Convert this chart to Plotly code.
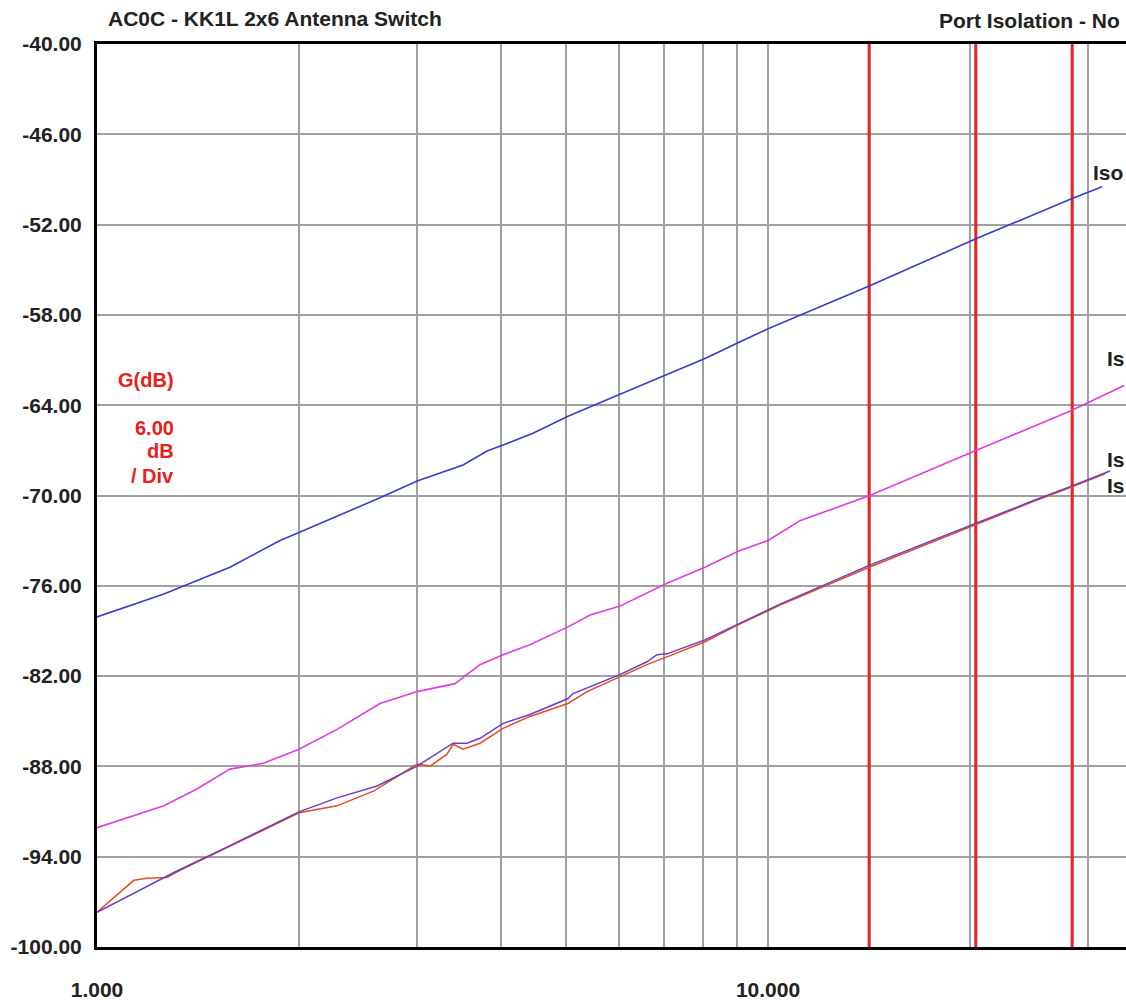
import plotly.graph_objects as go

# ---------------- data (frequency in MHz, gain in dB) ----------------
blue_f = [1.000, 1.258, 1.578, 1.874, 2.000, 2.641, 3.000, 3.512, 3.813, 4.029, 4.464,
          5.034, 6.017, 7.07, 8.055, 9.023, 10.0, 14.15, 20.49, 28.39, 31.46]
blue_db = [-78.07, -76.55, -74.77, -72.99, -72.46, -70.15, -69.03, -67.97, -67.04, -66.65, -65.86,
           -64.73, -63.28, -61.96, -60.90, -59.85, -58.92, -56.08, -52.91, -50.27, -49.48]

magenta_f = [1.000, 1.258, 1.409, 1.578, 1.774, 2.000, 2.279, 2.641, 3.000, 3.416, 3.722, 4.029,
             4.418, 5.034, 5.430, 6.017, 7.07, 8.055, 9.023, 10.0, 11.16, 14.15, 20.49, 28.39, 33.93]
magenta_db = [-92.07, -90.62, -89.50, -88.18, -87.78, -86.86, -85.54, -83.82, -83.03, -82.50, -81.24, -80.58,
              -79.92, -78.73, -77.94, -77.35, -75.83, -74.77, -73.71, -72.99, -71.67, -70.02, -66.98, -64.34, -62.69]

red_f = [1.000, 1.135, 1.187, 1.271, 1.329, 1.578, 1.774, 2.000, 2.279, 2.587, 3.000, 3.136, 3.324,
         3.393, 3.512, 3.722, 4.029, 4.418, 5.034, 5.374, 6.017, 6.600, 7.07, 8.055, 9.023, 10.42,
         14.15, 20.49, 24.83, 28.39, 31.78]
red_db = [-97.69, -95.57, -95.44, -95.38, -94.91, -93.33, -92.21, -91.08, -90.62, -89.63, -87.85, -87.98, -87.19,
          -86.53, -86.86, -86.46, -85.47, -84.68, -83.82, -83.03, -82.04, -81.24, -80.72, -79.72, -78.60, -77.28,
          -74.77, -71.87, -70.41, -69.42, -68.56]

purple_f = [1.000, 1.135, 1.302, 1.578, 1.774, 2.000, 2.279, 2.614, 3.000, 3.393, 3.560, 3.722, 4.029,
            4.418, 5.034, 5.121, 6.017, 6.600, 6.830, 7.07, 8.055, 9.023, 10.42, 14.15, 20.49, 24.83, 28.39, 32.34]
purple_db = [-97.69, -96.43, -95.05, -93.26, -92.14, -91.02, -90.09, -89.30, -87.98, -86.46, -86.46, -86.13, -85.14,
             -84.55, -83.49, -83.16, -81.90, -81.05, -80.58, -80.52, -79.59, -78.54, -77.22, -74.64, -71.80, -70.35, -69.36, -68.37]

marker_f = [14.15, 20.4, 28.4]

x_grid = [1, 2, 3, 4, 5, 6, 7, 8, 9, 10, 20, 30]
x_ticktext = ["1.000", "", "", "", "", "", "", "", "", "10.000", "", ""]
y_ticks = [-100, -94, -88, -82, -76, -70, -64, -58, -52, -46, -40]
y_ticktext = ["%.2f" % v for v in y_ticks]

trace_labels = ["Iso", "Is", "Is", "Is"]

# ---------------- figure ----------------
FONT = "Liberation Sans"
fig = go.Figure()

for f in marker_f:
    fig.add_trace(go.Scatter(x=[f, f], y=[-100, -40], mode="lines",
                             line=dict(color="#e8201c", width=3), showlegend=False, hoverinfo="skip"))

fig.add_trace(go.Scatter(x=magenta_f, y=magenta_db, mode="lines",
                         line=dict(color="#e03ce0", width=1.6), showlegend=False))
fig.add_trace(go.Scatter(x=red_f, y=red_db, mode="lines",
                         line=dict(color="#e84a24", width=1.5), showlegend=False))
fig.add_trace(go.Scatter(x=purple_f, y=purple_db, mode="lines",
                         line=dict(color="#6a3cc8", width=1.5), showlegend=False))
fig.add_trace(go.Scatter(x=blue_f, y=blue_db, mode="lines",
                         line=dict(color="#3a3ad2", width=1.6), showlegend=False))

fig.update_layout(
    width=1126, height=1001,
    margin=dict(l=97, r=0, t=44, b=49),
    paper_bgcolor="white", plot_bgcolor="white",
    font=dict(family=FONT, size=21, color="#222222"),
    showlegend=False,
)

tick_font = dict(family=FONT, size=21, color="#222222", weight="bold")

fig.update_xaxes(
    type="log", range=[0, 1.5335],
    tickmode="array", tickvals=x_grid, ticktext=x_ticktext,
    showgrid=True, gridcolor="#a0a0a0", gridwidth=1.5,
    showline=True, linecolor="black", linewidth=3, mirror=True,
    ticks="", ticklabelstandoff=22,
    tickfont=tick_font,
    zeroline=False,
)
fig.update_yaxes(
    range=[-100, -40],
    tickmode="array", tickvals=y_ticks, ticktext=y_ticktext,
    showgrid=True, gridcolor="#a0a0a0", gridwidth=1.5,
    showline=True, linecolor="black", linewidth=3, mirror=False,
    ticks="", ticklabelstandoff=8,
    tickfont=tick_font,
    zeroline=False,
)

def px_x(x):
    return (x - 97) / 1029.0

def px_y(y):
    return (952 - y) / 908.0

bold = dict(family=FONT, size=21, color="#222222", weight="bold")
red_font = dict(family=FONT, size=20, color="#e8201c", weight="bold")

fig.add_annotation(text="AC0C - KK1L 2x6 Antenna Switch", xref="paper", yref="paper",
                   x=px_x(275), y=px_y(18), xanchor="center", yanchor="middle",
                   showarrow=False, font=bold)
fig.add_annotation(text="Port Isolation - No", xref="paper", yref="paper",
                   x=px_x(937), y=px_y(20), xanchor="left", yanchor="middle",
                   showarrow=False, font=bold)

fig.add_annotation(text="G(dB)", xref="paper", yref="paper", x=px_x(176), y=px_y(382),
                   xanchor="right", yanchor="middle", showarrow=False, font=red_font)
for txt, yy in zip(["6.00", "dB", "/ Div"], [430, 453, 478]):
    fig.add_annotation(text=txt, xref="paper", yref="paper", x=px_x(176), y=px_y(yy),
                       xanchor="right", yanchor="middle", showarrow=False, font=red_font)

for txt, xx, yy in zip(trace_labels, [1091, 1105, 1105, 1105], [173, 360, 462, 488]):
    fig.add_annotation(text=txt, xref="paper", yref="paper", x=px_x(xx), y=px_y(yy),
                       xanchor="left", yanchor="middle", showarrow=False, font=bold)

fig.write_html("out.html", config={"displayModeBar": False},
               post_script="document.body.style.margin='0';document.body.style.overflow='hidden';")
